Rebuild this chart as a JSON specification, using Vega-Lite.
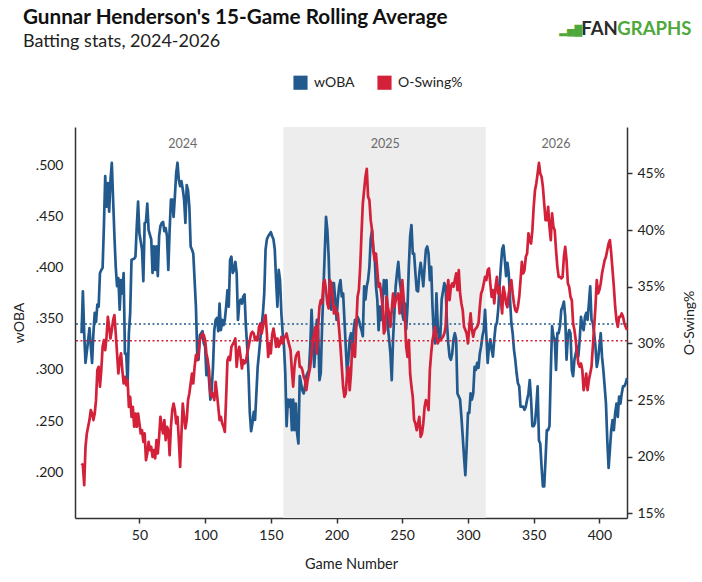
{
  "$schema": "https://vega.github.io/schema/vega-lite/v6.json",
  "width": 552,
  "height": 391,
  "autosize": {"type": "none"},
  "padding": {"left": 75, "top": 127, "right": 75, "bottom": 64},
  "background": "white",
  "config": {
    "font": "Lato",
    "view": {"stroke": null},
    "axis": {
      "grid": false,
      "labelFont": "Lato",
      "titleFont": "Lato",
      "labelColor": "#222",
      "titleColor": "#222",
      "labelFontSize": 14,
      "titleFontSize": 14,
      "titleFontWeight": "normal",
      "domainColor": "#333",
      "domainWidth": 1.5,
      "tickColor": "#333",
      "tickWidth": 1.5
    }
  },
  "title": {
    "text": "Gunnar Henderson's 15-Game Rolling Average",
    "subtitle": "Batting stats, 2024-2026",
    "anchor": "start",
    "frame": "group",
    "font": "Lato",
    "fontSize": 20.7,
    "fontWeight": "bold",
    "color": "#111",
    "subtitleFont": "Lato",
    "subtitleFontSize": 18,
    "subtitleColor": "#222",
    "subtitlePadding": 4,
    "offset": -32,
    "dx": -52
  },
  "datasets": {
    "seasons": [
      {"season": "2024", "start": 5.5, "end": 159.5, "mid": 83},
      {"season": "2025", "start": 159.5, "end": 313.5, "mid": 237},
      {"season": "2026", "start": 313.5, "end": 421, "mid": 367}
    ],
    "averages": [
      {"stat": "wOBA", "avg": 0.345},
      {"stat": "O-Swing%", "avg": 30.25}
    ],
    "brand": [
      {"part": "icon", "text": "▂▅█"},
      {"part": "fan", "text": "FAN"},
      {"part": "graphs", "text": "GRAPHS"}
    ],
    "woba": [
      {"g":6,"v":0.336},{"g":7,"v":0.377},{"g":8,"v":0.336},{"g":9,"v":0.307},{"g":11,"v":0.329},{"g":12,"v":0.341},{"g":13,"v":0.323},{"g":14,"v":0.307},{"g":15,"v":0.336},{"g":16,"v":0.356},
      {"g":17,"v":0.347},{"g":18,"v":0.364},{"g":19,"v":0.362},{"g":20,"v":0.395},{"g":21,"v":0.398},{"g":22,"v":0.4},{"g":23,"v":0.441},{"g":24,"v":0.49},{"g":25,"v":0.46},{"g":26,"v":0.483},
      {"g":27,"v":0.455},{"g":28,"v":0.486},{"g":29,"v":0.503},{"g":30,"v":0.467},{"g":31,"v":0.431},{"g":32,"v":0.401},{"g":33,"v":0.382},{"g":34,"v":0.39},{"g":35,"v":0.359},{"g":36,"v":0.388},
      {"g":37,"v":0.375},{"g":38,"v":0.395},{"g":39,"v":0.316},{"g":40,"v":0.316},{"g":41,"v":0.285},{"g":42,"v":0.336},{"g":43,"v":0.356},{"g":44,"v":0.408},{"g":46,"v":0.409},{"g":47,"v":0.411},
      {"g":48,"v":0.441},{"g":49,"v":0.465},{"g":50,"v":0.434},{"g":52,"v":0.418},{"g":53,"v":0.387},{"g":54,"v":0.444},{"g":55,"v":0.445},{"g":56,"v":0.463},{"g":57,"v":0.437},{"g":59,"v":0.428},
      {"g":60,"v":0.395},{"g":61,"v":0.421},{"g":62,"v":0.398},{"g":63,"v":0.421},{"g":64,"v":0.392},{"g":65,"v":0.431},{"g":66,"v":0.441},{"g":67,"v":0.444},{"g":68,"v":0.445},{"g":69,"v":0.436},
      {"g":70,"v":0.439},{"g":71,"v":0.431},{"g":72,"v":0.398},{"g":73,"v":0.437},{"g":74,"v":0.467},{"g":75,"v":0.467},{"g":76,"v":0.45},{"g":77,"v":0.47},{"g":78,"v":0.493},{"g":79,"v":0.503},
      {"g":80,"v":0.486},{"g":81,"v":0.48},{"g":82,"v":0.485},{"g":83,"v":0.477},{"g":84,"v":0.467},{"g":85,"v":0.444},{"g":86,"v":0.481},{"g":87,"v":0.476},{"g":88,"v":0.46},{"g":89,"v":0.421},
      {"g":90,"v":0.418},{"g":91,"v":0.414},{"g":92,"v":0.388},{"g":93,"v":0.362},{"g":94,"v":0.316},{"g":95,"v":0.31},{"g":96,"v":0.334},{"g":97,"v":0.336},{"g":98,"v":0.338},{"g":99,"v":0.326},
      {"g":100,"v":0.323},{"g":101,"v":0.295},{"g":102,"v":0.303},{"g":103,"v":0.29},{"g":104,"v":0.271},{"g":105,"v":0.28},{"g":106,"v":0.303},{"g":107,"v":0.339},{"g":108,"v":0.349},{"g":109,"v":0.351},
      {"g":110,"v":0.338},{"g":111,"v":0.365},{"g":112,"v":0.339},{"g":113,"v":0.349},{"g":114,"v":0.344},{"g":115,"v":0.349},{"g":116,"v":0.362},{"g":117,"v":0.378},{"g":118,"v":0.362},{"g":119,"v":0.408},
      {"g":120,"v":0.411},{"g":121,"v":0.395},{"g":122,"v":0.398},{"g":123,"v":0.406},{"g":124,"v":0.395},{"g":125,"v":0.349},{"g":126,"v":0.365},{"g":127,"v":0.369},{"g":128,"v":0.365},{"g":129,"v":0.372},
      {"g":130,"v":0.374},{"g":131,"v":0.343},{"g":132,"v":0.323},{"g":133,"v":0.297},{"g":134,"v":0.258},{"g":135,"v":0.24},{"g":136,"v":0.248},{"g":137,"v":0.259},{"g":138,"v":0.251},{"g":139,"v":0.277},
      {"g":140,"v":0.303},{"g":141,"v":0.316},{"g":142,"v":0.33},{"g":143,"v":0.343},{"g":144,"v":0.356},{"g":145,"v":0.375},{"g":146,"v":0.418},{"g":147,"v":0.428},{"g":148,"v":0.431},{"g":150,"v":0.435},
      {"g":151,"v":0.431},{"g":152,"v":0.428},{"g":153,"v":0.418},{"g":154,"v":0.388},{"g":155,"v":0.362},{"g":156,"v":0.398},{"g":157,"v":0.388},{"g":158,"v":0.356},{"g":159,"v":0.336},{"g":160,"v":0.323},
      {"g":161,"v":0.297},{"g":162,"v":0.245},{"g":163,"v":0.271},{"g":164,"v":0.264},{"g":165,"v":0.271},{"g":166,"v":0.241},{"g":167,"v":0.271},{"g":168,"v":0.241},{"g":169,"v":0.267},{"g":170,"v":0.238},
      {"g":171,"v":0.228},{"g":172,"v":0.294},{"g":173,"v":0.287},{"g":174,"v":0.28},{"g":175,"v":0.277},{"g":176,"v":0.284},{"g":177,"v":0.294},{"g":178,"v":0.297},{"g":179,"v":0.3},{"g":180,"v":0.323},
      {"g":181,"v":0.359},{"g":182,"v":0.33},{"g":183,"v":0.303},{"g":184,"v":0.323},{"g":185,"v":0.349},{"g":186,"v":0.339},{"g":187,"v":0.29},{"g":188,"v":0.297},{"g":189,"v":0.343},{"g":190,"v":0.378},
      {"g":191,"v":0.414},{"g":192,"v":0.45},{"g":193,"v":0.437},{"g":194,"v":0.411},{"g":195,"v":0.365},{"g":196,"v":0.359},{"g":197,"v":0.385},{"g":198,"v":0.385},{"g":199,"v":0.369},{"g":200,"v":0.349},
      {"g":201,"v":0.369},{"g":202,"v":0.382},{"g":203,"v":0.388},{"g":204,"v":0.372},{"g":205,"v":0.375},{"g":206,"v":0.349},{"g":207,"v":0.323},{"g":208,"v":0.297},{"g":209,"v":0.31},{"g":210,"v":0.33},
      {"g":211,"v":0.336},{"g":212,"v":0.313},{"g":213,"v":0.339},{"g":214,"v":0.349},{"g":215,"v":0.343},{"g":216,"v":0.352},{"g":217,"v":0.349},{"g":218,"v":0.343},{"g":219,"v":0.339},{"g":220,"v":0.333},
      {"g":221,"v":0.382},{"g":222,"v":0.369},{"g":223,"v":0.382},{"g":224,"v":0.388},{"g":225,"v":0.401},{"g":226,"v":0.428},{"g":227,"v":0.437},{"g":228,"v":0.418},{"g":229,"v":0.411},{"g":230,"v":0.382},
      {"g":231,"v":0.369},{"g":232,"v":0.339},{"g":233,"v":0.362},{"g":234,"v":0.349},{"g":235,"v":0.365},{"g":236,"v":0.388},{"g":237,"v":0.375},{"g":238,"v":0.388},{"g":239,"v":0.343},{"g":240,"v":0.33},
      {"g":241,"v":0.316},{"g":242,"v":0.29},{"g":243,"v":0.33},{"g":244,"v":0.356},{"g":245,"v":0.382},{"g":246,"v":0.395},{"g":247,"v":0.406},{"g":248,"v":0.388},{"g":249,"v":0.378},{"g":250,"v":0.356},
      {"g":251,"v":0.349},{"g":252,"v":0.365},{"g":253,"v":0.34},{"g":254,"v":0.362},{"g":255,"v":0.401},{"g":256,"v":0.431},{"g":257,"v":0.442},{"g":258,"v":0.414},{"g":259,"v":0.414},{"g":260,"v":0.395},
      {"g":261,"v":0.378},{"g":262,"v":0.377},{"g":263,"v":0.395},{"g":264,"v":0.405},{"g":265,"v":0.395},{"g":266,"v":0.382},{"g":267,"v":0.401},{"g":268,"v":0.418},{"g":269,"v":0.421},{"g":270,"v":0.414},
      {"g":271,"v":0.388},{"g":272,"v":0.401},{"g":273,"v":0.362},{"g":274,"v":0.336},{"g":275,"v":0.326},{"g":276,"v":0.375},{"g":277,"v":0.343},{"g":278,"v":0.33},{"g":279,"v":0.333},{"g":280,"v":0.369},
      {"g":282,"v":0.385},{"g":283,"v":0.382},{"g":284,"v":0.346},{"g":285,"v":0.326},{"g":286,"v":0.313},{"g":287,"v":0.31},{"g":288,"v":0.316},{"g":289,"v":0.33},{"g":290,"v":0.336},{"g":291,"v":0.33},
      {"g":292,"v":0.277},{"g":293,"v":0.274},{"g":294,"v":0.271},{"g":295,"v":0.254},{"g":296,"v":0.235},{"g":297,"v":0.215},{"g":298,"v":0.197},{"g":299,"v":0.225},{"g":300,"v":0.258},{"g":301,"v":0.258},
      {"g":302,"v":0.277},{"g":303,"v":0.271},{"g":304,"v":0.277},{"g":305,"v":0.303},{"g":306,"v":0.3},{"g":307,"v":0.307},{"g":308,"v":0.302},{"g":309,"v":0.316},{"g":310,"v":0.323},{"g":311,"v":0.333},
      {"g":312,"v":0.339},{"g":313,"v":0.359},{"g":314,"v":0.333},{"g":315,"v":0.307},{"g":316,"v":0.323},{"g":317,"v":0.33},{"g":318,"v":0.32},{"g":319,"v":0.313},{"g":320,"v":0.33},{"g":321,"v":0.343},
      {"g":322,"v":0.346},{"g":323,"v":0.359},{"g":324,"v":0.382},{"g":325,"v":0.401},{"g":326,"v":0.418},{"g":327,"v":0.422},{"g":328,"v":0.408},{"g":329,"v":0.392},{"g":330,"v":0.405},{"g":331,"v":0.395},
      {"g":332,"v":0.369},{"g":333,"v":0.346},{"g":334,"v":0.336},{"g":335,"v":0.32},{"g":336,"v":0.31},{"g":337,"v":0.297},{"g":338,"v":0.287},{"g":339,"v":0.284},{"g":340,"v":0.264},{"g":341,"v":0.264},
      {"g":342,"v":0.264},{"g":343,"v":0.261},{"g":344,"v":0.264},{"g":345,"v":0.271},{"g":346,"v":0.277},{"g":347,"v":0.29},{"g":348,"v":0.271},{"g":349,"v":0.245},{"g":350,"v":0.245},{"g":351,"v":0.248},
      {"g":352,"v":0.264},{"g":353,"v":0.284},{"g":354,"v":0.231},{"g":355,"v":0.228},{"g":356,"v":0.205},{"g":357,"v":0.186},{"g":358,"v":0.186},{"g":359,"v":0.212},{"g":360,"v":0.241},{"g":361,"v":0.241},
      {"g":362,"v":0.245},{"g":363,"v":0.297},{"g":364,"v":0.343},{"g":365,"v":0.333},{"g":366,"v":0.33},{"g":367,"v":0.3},{"g":368,"v":0.336},{"g":369,"v":0.336},{"g":370,"v":0.343},{"g":371,"v":0.359},
      {"g":372,"v":0.362},{"g":373,"v":0.367},{"g":374,"v":0.352},{"g":375,"v":0.31},{"g":376,"v":0.333},{"g":377,"v":0.339},{"g":378,"v":0.336},{"g":379,"v":0.3},{"g":380,"v":0.294},{"g":381,"v":0.31},
      {"g":382,"v":0.316},{"g":383,"v":0.323},{"g":384,"v":0.313},{"g":385,"v":0.33},{"g":386,"v":0.352},{"g":387,"v":0.343},{"g":388,"v":0.339},{"g":389,"v":0.352},{"g":390,"v":0.356},{"g":391,"v":0.349},
      {"g":392,"v":0.365},{"g":393,"v":0.382},{"g":394,"v":0.349},{"g":395,"v":0.346},{"g":396,"v":0.336},{"g":397,"v":0.323},{"g":398,"v":0.303},{"g":399,"v":0.31},{"g":400,"v":0.323},{"g":401,"v":0.336},
      {"g":402,"v":0.313},{"g":403,"v":0.3},{"g":404,"v":0.284},{"g":405,"v":0.267},{"g":406,"v":0.231},{"g":407,"v":0.204},{"g":408,"v":0.222},{"g":409,"v":0.241},{"g":410,"v":0.251},{"g":411,"v":0.241},
      {"g":412,"v":0.258},{"g":413,"v":0.267},{"g":414,"v":0.254},{"g":415,"v":0.274},{"g":416,"v":0.267},{"g":417,"v":0.277},{"g":418,"v":0.284},{"g":419,"v":0.284},{"g":420,"v":0.287},{"g":421,"v":0.292}
    ],
    "oswing": [
      {"g":6,"v":19.41},{"g":7,"v":19.26},{"g":8,"v":17.5},{"g":9,"v":20.88},{"g":10,"v":22.06},{"g":11,"v":22.65},{"g":12,"v":23.24},{"g":13,"v":24.12},{"g":14,"v":23.82},{"g":15,"v":23.24},
      {"g":16,"v":23.82},{"g":17,"v":25.0},{"g":18,"v":27.65},{"g":19,"v":27.94},{"g":20,"v":26.18},{"g":21,"v":27.65},{"g":22,"v":29.7},{"g":23,"v":30.29},{"g":24,"v":29.41},{"g":25,"v":30.59},
      {"g":26,"v":32.35},{"g":27,"v":31.47},{"g":28,"v":30.44},{"g":29,"v":31.18},{"g":30,"v":32.06},{"g":31,"v":32.5},{"g":32,"v":30.88},{"g":33,"v":29.12},{"g":34,"v":27.35},{"g":35,"v":28.53},
      {"g":36,"v":29.12},{"g":37,"v":27.65},{"g":38,"v":26.47},{"g":39,"v":27.06},{"g":40,"v":26.32},{"g":41,"v":26.76},{"g":42,"v":24.4},{"g":43,"v":25.3},{"g":44,"v":23.53},{"g":45,"v":24.41},
      {"g":46,"v":22.65},{"g":47,"v":23.82},{"g":48,"v":22.65},{"g":49,"v":23.82},{"g":50,"v":22.94},{"g":51,"v":22.06},{"g":52,"v":22.35},{"g":53,"v":21.32},{"g":54,"v":22.06},{"g":55,"v":19.7},
      {"g":56,"v":20.29},{"g":57,"v":21.32},{"g":58,"v":20.59},{"g":59,"v":20.88},{"g":60,"v":20.0},{"g":61,"v":20.59},{"g":62,"v":19.85},{"g":63,"v":21.47},{"g":64,"v":20.29},{"g":65,"v":21.76},
      {"g":66,"v":23.53},{"g":67,"v":22.65},{"g":68,"v":22.06},{"g":69,"v":23.24},{"g":70,"v":21.47},{"g":71,"v":22.65},{"g":72,"v":22.35},{"g":73,"v":20.15},{"g":74,"v":22.65},{"g":75,"v":24.12},
      {"g":76,"v":24.7},{"g":77,"v":24.12},{"g":78,"v":22.94},{"g":79,"v":23.53},{"g":80,"v":21.47},{"g":81,"v":19.1},{"g":82,"v":22.06},{"g":83,"v":24.7},{"g":84,"v":23.53},{"g":85,"v":22.5},
      {"g":86,"v":23.24},{"g":87,"v":25.0},{"g":88,"v":25.59},{"g":89,"v":26.47},{"g":90,"v":27.35},{"g":91,"v":26.47},{"g":92,"v":27.94},{"g":93,"v":28.97},{"g":94,"v":28.53},{"g":95,"v":29.12},
      {"g":96,"v":30.29},{"g":97,"v":30.59},{"g":98,"v":30.88},{"g":99,"v":30.74},{"g":100,"v":30.29},{"g":101,"v":29.12},{"g":102,"v":28.53},{"g":103,"v":27.65},{"g":104,"v":25.59},{"g":105,"v":25.29},
      {"g":106,"v":25.59},{"g":107,"v":25.0},{"g":108,"v":26.62},{"g":109,"v":25.59},{"g":110,"v":24.41},{"g":111,"v":23.24},{"g":112,"v":23.53},{"g":113,"v":22.94},{"g":114,"v":22.65},{"g":115,"v":22.2},
      {"g":116,"v":25.29},{"g":117,"v":28.53},{"g":118,"v":28.82},{"g":119,"v":28.53},{"g":120,"v":29.7},{"g":122,"v":30.15},{"g":123,"v":30.44},{"g":124,"v":27.94},{"g":125,"v":29.12},{"g":126,"v":29.7},
      {"g":127,"v":28.82},{"g":128,"v":27.79},{"g":129,"v":28.53},{"g":130,"v":28.24},{"g":131,"v":28.38},{"g":132,"v":29.12},{"g":133,"v":29.7},{"g":134,"v":30.29},{"g":135,"v":30.88},{"g":136,"v":31.03},
      {"g":137,"v":30.88},{"g":138,"v":30.29},{"g":139,"v":30.59},{"g":140,"v":30.29},{"g":141,"v":31.47},{"g":142,"v":31.76},{"g":143,"v":30.88},{"g":144,"v":31.47},{"g":145,"v":32.06},{"g":146,"v":32.5},
      {"g":147,"v":30.88},{"g":148,"v":28.82},{"g":149,"v":30.0},{"g":150,"v":29.12},{"g":151,"v":30.74},{"g":152,"v":31.32},{"g":153,"v":30.59},{"g":154,"v":29.7},{"g":155,"v":30.44},{"g":156,"v":29.7},
      {"g":157,"v":30.0},{"g":158,"v":30.59},{"g":159,"v":30.0},{"g":160,"v":30.44},{"g":161,"v":30.59},{"g":162,"v":30.88},{"g":163,"v":30.29},{"g":164,"v":29.85},{"g":165,"v":29.41},{"g":166,"v":27.65},
      {"g":167,"v":26.2},{"g":168,"v":27.94},{"g":169,"v":28.82},{"g":170,"v":29.12},{"g":171,"v":29.26},{"g":172,"v":27.94},{"g":173,"v":27.94},{"g":174,"v":27.65},{"g":175,"v":27.06},{"g":176,"v":26.76},
      {"g":177,"v":25.88},{"g":178,"v":26.76},{"g":179,"v":27.35},{"g":180,"v":27.94},{"g":181,"v":29.12},{"g":182,"v":30.29},{"g":183,"v":30.88},{"g":184,"v":31.47},{"g":185,"v":29.12},{"g":186,"v":31.47},
      {"g":187,"v":33.24},{"g":188,"v":33.82},{"g":189,"v":33.53},{"g":190,"v":35.29},{"g":191,"v":35.59},{"g":192,"v":34.71},{"g":193,"v":33.53},{"g":194,"v":33.09},{"g":195,"v":35.59},{"g":196,"v":35.29},
      {"g":197,"v":34.12},{"g":198,"v":32.65},{"g":199,"v":33.24},{"g":200,"v":32.65},{"g":201,"v":32.65},{"g":202,"v":31.18},{"g":203,"v":29.7},{"g":204,"v":27.94},{"g":205,"v":26.18},{"g":206,"v":25.29},
      {"g":207,"v":25.59},{"g":208,"v":27.35},{"g":209,"v":27.94},{"g":210,"v":25.88},{"g":211,"v":27.35},{"g":212,"v":30.0},{"g":213,"v":29.41},{"g":214,"v":28.82},{"g":215,"v":31.47},{"g":216,"v":34.12},
      {"g":217,"v":34.71},{"g":218,"v":36.76},{"g":219,"v":39.71},{"g":220,"v":42.35},{"g":222,"v":44.71},{"g":223,"v":45.4},{"g":224,"v":42.94},{"g":225,"v":42.65},{"g":226,"v":40.88},{"g":227,"v":40.0},
      {"g":228,"v":38.24},{"g":229,"v":37.35},{"g":230,"v":37.94},{"g":231,"v":36.47},{"g":232,"v":35.0},{"g":233,"v":35.29},{"g":234,"v":34.41},{"g":235,"v":33.24},{"g":236,"v":30.88},{"g":237,"v":31.18},
      {"g":238,"v":34.12},{"g":239,"v":33.24},{"g":240,"v":32.65},{"g":241,"v":31.47},{"g":242,"v":32.94},{"g":243,"v":34.41},{"g":244,"v":33.24},{"g":245,"v":33.82},{"g":246,"v":34.12},{"g":247,"v":34.41},
      {"g":248,"v":32.65},{"g":249,"v":34.12},{"g":250,"v":35.59},{"g":251,"v":34.12},{"g":252,"v":32.35},{"g":253,"v":29.7},{"g":254,"v":28.82},{"g":255,"v":30.29},{"g":256,"v":27.35},{"g":257,"v":26.18},
      {"g":258,"v":25.29},{"g":259,"v":23.24},{"g":260,"v":22.94},{"g":261,"v":22.35},{"g":262,"v":22.94},{"g":263,"v":23.53},{"g":264,"v":21.76},{"g":265,"v":22.06},{"g":266,"v":22.94},{"g":267,"v":24.41},
      {"g":268,"v":25.0},{"g":269,"v":24.71},{"g":270,"v":24.12},{"g":271,"v":27.65},{"g":272,"v":29.12},{"g":273,"v":30.29},{"g":274,"v":30.88},{"g":275,"v":31.47},{"g":276,"v":30.59},{"g":277,"v":30.0},
      {"g":278,"v":30.29},{"g":279,"v":30.29},{"g":280,"v":30.44},{"g":281,"v":30.59},{"g":282,"v":30.88},{"g":283,"v":31.47},{"g":284,"v":34.12},{"g":285,"v":35.59},{"g":286,"v":33.82},{"g":287,"v":35.0},
      {"g":288,"v":35.29},{"g":289,"v":35.0},{"g":290,"v":35.59},{"g":291,"v":36.18},{"g":292,"v":34.71},{"g":293,"v":36.47},{"g":294,"v":34.41},{"g":295,"v":33.53},{"g":296,"v":32.94},{"g":297,"v":31.47},
      {"g":298,"v":31.18},{"g":299,"v":30.88},{"g":300,"v":30.0},{"g":301,"v":31.47},{"g":302,"v":32.65},{"g":303,"v":31.18},{"g":304,"v":30.59},{"g":305,"v":31.18},{"g":307,"v":31.47},{"g":308,"v":31.76},
      {"g":309,"v":33.24},{"g":310,"v":34.41},{"g":311,"v":34.71},{"g":312,"v":35.29},{"g":313,"v":35.88},{"g":314,"v":35.59},{"g":315,"v":36.47},{"g":316,"v":36.62},{"g":317,"v":35.29},{"g":318,"v":34.12},
      {"g":319,"v":34.71},{"g":320,"v":33.53},{"g":321,"v":35.0},{"g":322,"v":35.88},{"g":323,"v":34.41},{"g":324,"v":35.0},{"g":325,"v":33.82},{"g":326,"v":32.65},{"g":327,"v":35.0},{"g":328,"v":34.41},
      {"g":329,"v":33.53},{"g":330,"v":33.2},{"g":331,"v":34.4},{"g":332,"v":35.0},{"g":333,"v":35.6},{"g":334,"v":34.41},{"g":335,"v":33.53},{"g":336,"v":32.94},{"g":337,"v":32.79},{"g":338,"v":33.24},
      {"g":339,"v":34.12},{"g":340,"v":35.59},{"g":341,"v":37.2},{"g":342,"v":36.18},{"g":343,"v":36.47},{"g":344,"v":37.65},{"g":345,"v":37.94},{"g":346,"v":39.71},{"g":347,"v":39.12},{"g":348,"v":38.82},
      {"g":349,"v":40.0},{"g":350,"v":42.06},{"g":351,"v":43.53},{"g":352,"v":44.12},{"g":353,"v":45.0},{"g":354,"v":45.94},{"g":355,"v":45.0},{"g":356,"v":44.71},{"g":357,"v":43.82},{"g":358,"v":42.35},
      {"g":359,"v":40.88},{"g":360,"v":40.88},{"g":361,"v":42.06},{"g":362,"v":40.29},{"g":363,"v":39.12},{"g":364,"v":41.47},{"g":365,"v":40.29},{"g":366,"v":40.0},{"g":367,"v":38.24},{"g":368,"v":36.76},
      {"g":369,"v":35.88},{"g":370,"v":35.88},{"g":371,"v":35.74},{"g":372,"v":35.88},{"g":373,"v":37.65},{"g":374,"v":38.53},{"g":375,"v":37.35},{"g":376,"v":35.29},{"g":377,"v":35.0},{"g":378,"v":34.12},
      {"g":379,"v":33.82},{"g":380,"v":31.76},{"g":381,"v":31.18},{"g":382,"v":30.29},{"g":383,"v":29.12},{"g":384,"v":28.24},{"g":385,"v":27.94},{"g":386,"v":28.24},{"g":387,"v":27.65},{"g":388,"v":25.88},
      {"g":389,"v":26.47},{"g":390,"v":27.35},{"g":391,"v":25.88},{"g":392,"v":26.76},{"g":393,"v":27.35},{"g":394,"v":27.94},{"g":395,"v":29.7},{"g":396,"v":31.47},{"g":397,"v":33.24},{"g":398,"v":35.59},
      {"g":399,"v":34.41},{"g":400,"v":34.71},{"g":401,"v":35.29},{"g":402,"v":36.18},{"g":403,"v":36.76},{"g":404,"v":37.35},{"g":405,"v":37.65},{"g":406,"v":38.24},{"g":407,"v":38.82},{"g":408,"v":39.12},
      {"g":409,"v":37.94},{"g":410,"v":36.47},{"g":411,"v":35.0},{"g":412,"v":33.24},{"g":413,"v":32.06},{"g":414,"v":31.47},{"g":415,"v":32.35},{"g":416,"v":32.35},{"g":417,"v":32.65},{"g":418,"v":32.35},
      {"g":419,"v":31.76},{"g":420,"v":31.47},{"g":421,"v":31.2}
    ]
  },
  "layer": [
    {
      "layer": [
        {
          "data": {"name": "seasons"},
          "transform": [{"filter": "datum.season == '2025'"}],
          "mark": {"type": "rect", "color": "#ededed"},
          "encoding": {
            "x": {"field": "start", "type": "quantitative", "title": "Game Number", "scale": {"domain": [1, 421]}},
            "x2": {"field": "end"}
          }
        },
        {
          "data": {"name": "seasons"},
          "mark": {"type": "text", "font": "Lato", "fontSize": 12.5, "color": "#6b6b6b", "baseline": "middle"},
          "encoding": {
            "x": {"field": "mid", "type": "quantitative", "title": "Game Number", "scale": {"domain": [1, 421]}},
            "y": {"datum": 0.521, "type": "quantitative", "title": "wOBA", "scale": {"domain": [0.155, 0.538], "nice": false, "zero": false}},
            "text": {"field": "season"}
          }
        },
        {
          "data": {"name": "averages"},
          "transform": [{"filter": "datum.stat == 'wOBA'"}],
          "mark": {"type": "rule", "color": "#235a8e", "strokeWidth": 1.5, "strokeDash": [2, 2.5]},
          "encoding": {
            "y": {"field": "avg", "type": "quantitative", "title": "wOBA", "scale": {"domain": [0.155, 0.538], "nice": false, "zero": false}}
          }
        },
        {
          "data": {"name": "woba"},
          "mark": {"type": "line", "strokeWidth": 2.7, "strokeJoin": "round"},
          "encoding": {
            "x": {
              "field": "g",
              "type": "quantitative",
              "title": "Game Number",
              "scale": {"domain": [1, 421]},
              "axis": {
                "values": [50, 100, 150, 200, 250, 300, 350, 400],
                "tickSize": 5,
                "labelPadding": 5,
                "titlePadding": 15,
                "titleFontSize": 14.5
              }
            },
            "y": {
              "field": "v",
              "type": "quantitative",
              "title": "wOBA",
              "scale": {"domain": [0.155, 0.538], "nice": false, "zero": false},
              "axis": {
                "orient": "left",
                "values": [0.2, 0.25, 0.3, 0.35, 0.4, 0.45, 0.5],
                "labelExpr": "substring(format(datum.value, '.3f'), 1)",
                "ticks": false,
                "labelPadding": 12,
                "titlePadding": 9
              }
            },
            "color": {
              "datum": "wOBA",
              "type": "nominal",
              "scale": {"domain": ["wOBA", "O-Swing%"], "range": ["#235a8e", "#d3213a"]},
              "legend": {
                "orient": "none",
                "legendX": 218,
                "legendY": -52,
                "direction": "horizontal",
                "title": null,
                "labelFont": "Lato",
                "labelFontSize": 14,
                "labelColor": "#222",
                "labelOffset": 6,
                "symbolSize": 200,
                "columnPadding": 22,
                "encode": {
                  "symbols": {
                    "update": {
                      "shape": {"value": "square"},
                      "fill": {"scale": "color", "field": "value"},
                      "strokeWidth": {"value": 0}
                    }
                  }
                }
              }
            }
          }
        },
        {
          "data": {"name": "brand"},
          "transform": [{"filter": "datum.part == 'graphs'"}],
          "mark": {"type": "text", "font": "Lato", "fontSize": 18.5, "fontWeight": "bold", "color": "#4fa83a", "align": "right", "baseline": "middle"},
          "encoding": {
            "x": {"datum": 470, "type": "quantitative", "title": "Game Number", "scale": {"domain": [1, 421]}},
            "y": {"datum": 0.634, "type": "quantitative", "title": "wOBA", "scale": {"domain": [0.155, 0.538], "nice": false, "zero": false}},
            "text": {"field": "text"}
          }
        },
        {
          "data": {"name": "brand"},
          "transform": [{"filter": "datum.part == 'fan'"}],
          "mark": {"type": "text", "font": "Lato", "fontSize": 18.5, "fontWeight": "bold", "color": "#2b2b2b", "align": "right", "baseline": "middle"},
          "encoding": {
            "x": {"datum": 414, "type": "quantitative", "title": "Game Number", "scale": {"domain": [1, 421]}},
            "y": {"datum": 0.634, "type": "quantitative", "title": "wOBA", "scale": {"domain": [0.155, 0.538], "nice": false, "zero": false}},
            "text": {"field": "text"}
          }
        },
        {
          "data": {"name": "brand"},
          "transform": [{"filter": "datum.part == 'icon'"}],
          "mark": {"type": "text", "font": "DejaVu Sans", "fontSize": 10, "color": "#4fa83a", "align": "right", "baseline": "middle"},
          "encoding": {
            "x": {"datum": 387, "type": "quantitative", "title": "Game Number", "scale": {"domain": [1, 421]}},
            "y": {"datum": 0.632, "type": "quantitative", "title": "wOBA", "scale": {"domain": [0.155, 0.538], "nice": false, "zero": false}},
            "text": {"field": "text"}
          }
        }
      ]
    },
    {
      "layer": [
        {
          "data": {"name": "averages"},
          "transform": [{"filter": "datum.stat == 'O-Swing%'"}],
          "mark": {"type": "rule", "color": "#d3213a", "strokeWidth": 1.5, "strokeDash": [2, 2.5]},
          "encoding": {
            "y": {"field": "avg", "type": "quantitative", "title": "O-Swing%", "scale": {"domain": [14.6, 49.1], "nice": false, "zero": false}}
          }
        },
        {
          "data": {"name": "oswing"},
          "mark": {"type": "line", "strokeWidth": 2.7, "strokeJoin": "round"},
          "encoding": {
            "x": {"field": "g", "type": "quantitative", "title": "Game Number", "scale": {"domain": [1, 421]}},
            "y": {
              "field": "v",
              "type": "quantitative",
              "title": "O-Swing%",
              "scale": {"domain": [14.6, 49.1], "nice": false, "zero": false},
              "axis": {
                "orient": "right",
                "values": [15, 20, 25, 30, 35, 40, 45],
                "labelExpr": "datum.value + '%'",
                "tickSize": 5,
                "labelPadding": 5,
                "titleAngle": -90,
                "titleBaseline": "top",
                "titlePadding": 18
              }
            },
            "color": {
              "datum": "O-Swing%",
              "type": "nominal"
            }
          }
        }
      ]
    }
  ],
  "resolve": {"scale": {"y": "independent"}}
}
